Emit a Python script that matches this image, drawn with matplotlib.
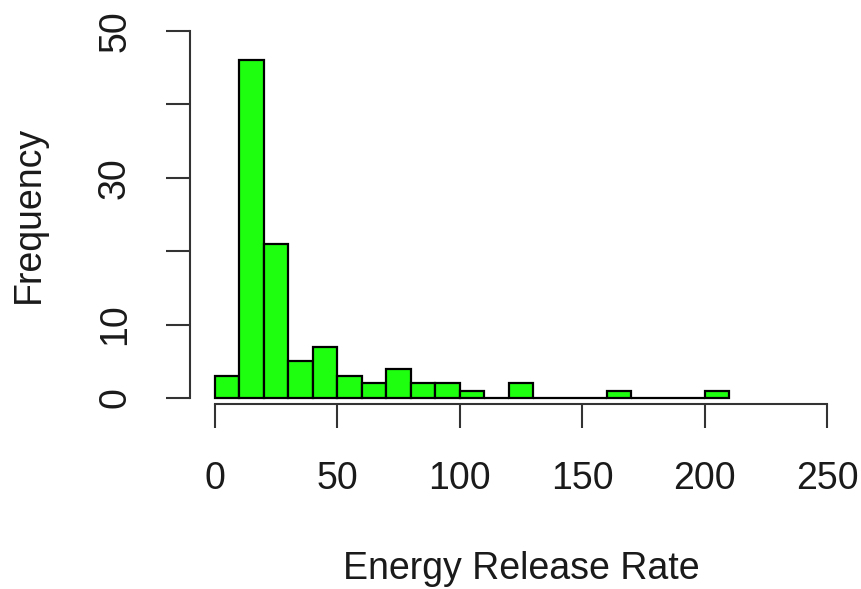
import numpy as np
import matplotlib
matplotlib.use("Agg")
import matplotlib.pyplot as plt

plt.rcParams["font.family"] = ["Liberation Sans", "DejaVu Sans"]

# histogram counts, bins of width 10 from 0 to 210
bin_edges = np.arange(0, 220, 10)
counts = [3, 46, 21, 5, 7, 3, 2, 4, 2, 2, 1, 0, 2, 0, 0, 0, 1, 0, 0, 0, 1]

x_ticks = [0, 50, 100, 150, 200, 250]
y_ticks = [0, 10, 20, 30, 40, 50]
y_tick_labels = ["0", "10", "", "30", "", "50"]

W, H = 861, 589
fig = plt.figure(figsize=(W / 100, H / 100), dpi=100)
ax = fig.add_axes([190 / W, (H - 412.7) / H, 662 / W, 396.4 / H])

ax.bar(bin_edges[:-1], counts, width=10, align="edge",
       color="#1eff10", edgecolor="black", linewidth=1.6)

ax.set_xlim(-10, 260)
ax.set_ylim(-2, 52)

for side in ["top", "right"]:
    ax.spines[side].set_visible(False)
ax.spines["left"].set_bounds(0, 50)
ax.spines["bottom"].set_bounds(0, 250)
ax.spines["bottom"].set_position(("data", -0.82))
for side in ["left", "bottom"]:
    ax.spines[side].set_linewidth(1.5)
    ax.spines[side].set_color("#333333")

ax.set_xticks(x_ticks)
ax.set_xticklabels([str(v) for v in x_ticks])
ax.set_yticks(y_ticks)
ax.set_yticklabels(y_tick_labels, rotation=90, va="center")

ax.tick_params(axis="both", length=17, width=1.5, color="#333333",
               labelsize=27, labelcolor="#1a1a1a")
ax.tick_params(axis="x", pad=24)
ax.tick_params(axis="y", pad=24)

ax.set_xlabel("Energy Release Rate", fontsize=27, color="#1a1a1a", labelpad=39)
ax.set_ylabel("Frequency", fontsize=27, color="#1a1a1a", labelpad=36)

fig.savefig("out.png", dpi=100)
